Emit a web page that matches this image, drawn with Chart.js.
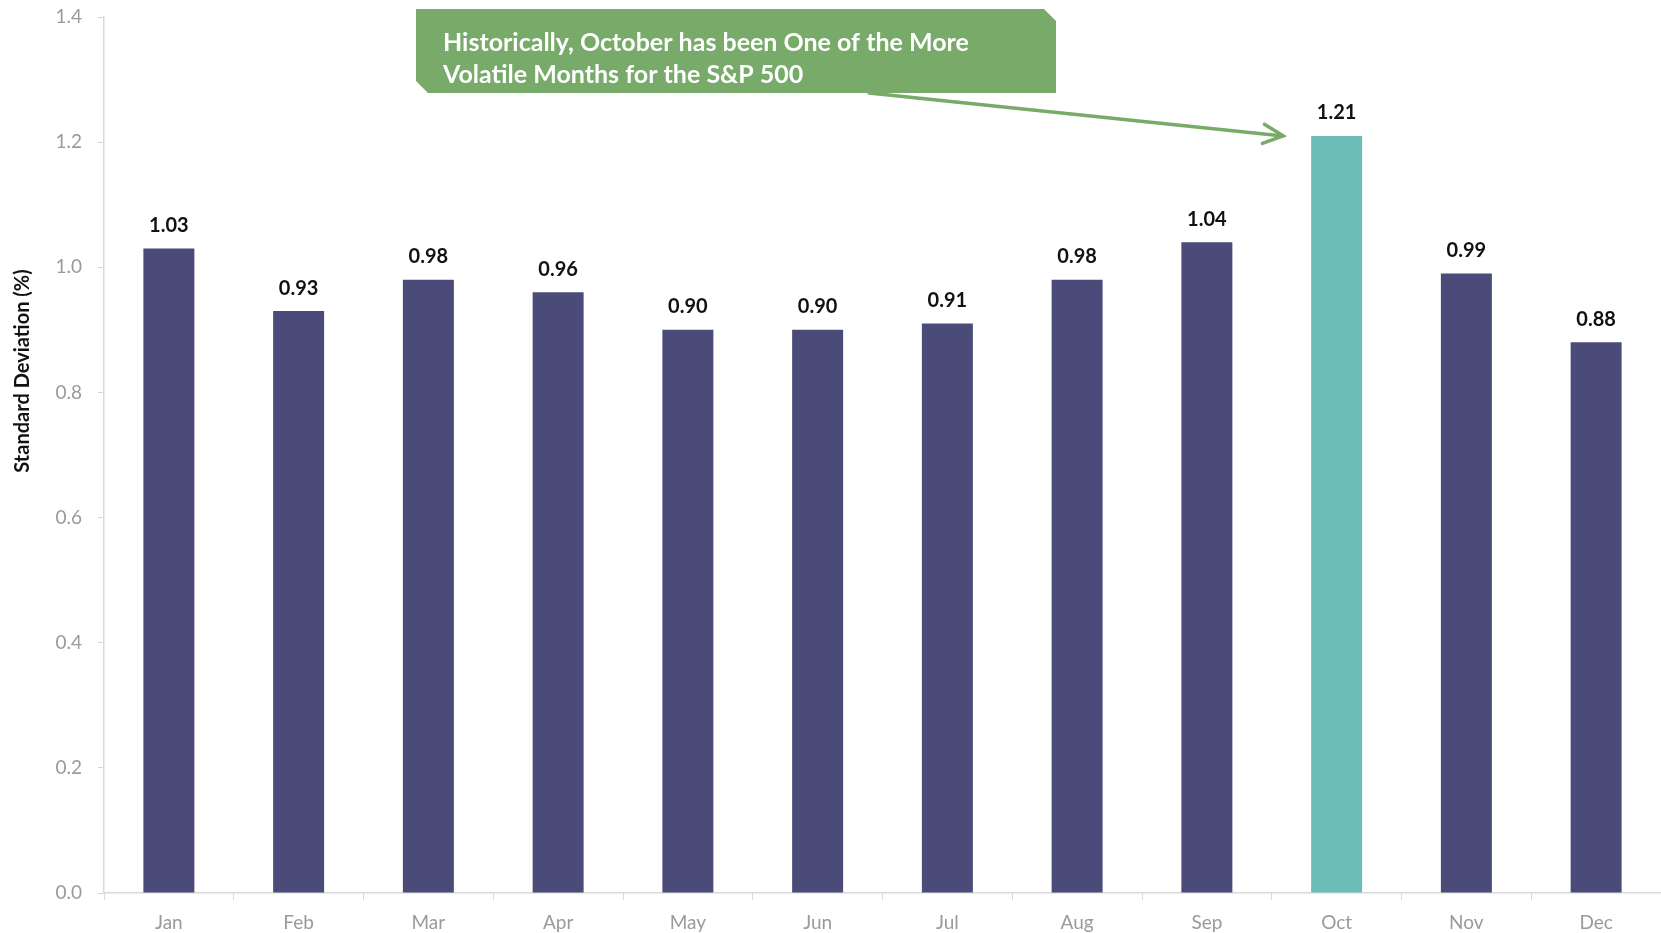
<!DOCTYPE html>
<html>
<head>
<meta charset="utf-8">
<script src="https://cdn.jsdelivr.net/npm/chart.js@4.4.1/dist/chart.umd.min.js"></script>
<style>
  html, body { margin: 0; padding: 0; background: #ffffff; }
  #wrap { width: 1661px; height: 933px; position: relative; }
</style>
</head>
<body>
<div id="wrap"><canvas id="volChart"></canvas></div>
<script>
// chart data
const months = ['Jan', 'Feb', 'Mar', 'Apr', 'May', 'Jun', 'Jul', 'Aug', 'Sep', 'Oct', 'Nov', 'Dec'];
const stdDev = [1.03, 0.93, 0.98, 0.96, 0.90, 0.90, 0.91, 0.98, 1.04, 1.21, 0.99, 0.88];
const highlightMonth = 'Oct';
const yTicks = [0, 0.2, 0.4, 0.6, 0.8, 1.0, 1.2, 1.4];
const calloutLines = ['Historically, October has been One of the More', 'Volatile Months for the S&P 500'];
const yTitle = 'Standard Deviation (%)';

const NAVY = '#4a4b78';
const TEAL = '#6cbcb8';
const GREEN = '#78ab69';
const AXIS = '#d9d9d9';
const FONT = 'Lato, "Open Sans", sans-serif';

// value labels above bars
const valueLabels = {
  id: 'valueLabels',
  afterDatasetsDraw(chart) {
    const ctx = chart.ctx;
    const meta = chart.getDatasetMeta(0);
    ctx.save();
    ctx.font = 'bold 20px ' + FONT;
    ctx.fillStyle = '#111111';
    ctx.textAlign = 'center';
    ctx.textBaseline = 'middle';
    meta.data.forEach((bar, i) => {
      ctx.fillText(stdDev[i].toFixed(2), bar.x, bar.y - 23);
    });
    ctx.restore();
  }
};

// y axis title, sits a bit above the middle like the original
const sideTitle = {
  id: 'sideTitle',
  afterDraw(chart) {
    const ctx = chart.ctx;
    ctx.save();
    ctx.font = 'bold 20px ' + FONT;
    ctx.fillStyle = '#111111';
    ctx.textAlign = 'center';
    ctx.textBaseline = 'middle';
    ctx.translate(23, 371);
    ctx.rotate(-Math.PI / 2);
    ctx.fillText(yTitle, 0, 0);
    ctx.restore();
  }
};

// green callout box + arrow pointing at the highlighted bar
const callout = {
  id: 'callout',
  afterDraw(chart) {
    const ctx = chart.ctx;
    const left = 416, top = 9, right = 1056, bottom = 93, cut = 12;
    ctx.save();
    ctx.fillStyle = GREEN;
    ctx.beginPath();
    ctx.moveTo(left, top);
    ctx.lineTo(right - cut, top);
    ctx.lineTo(right, top + cut);
    ctx.lineTo(right, bottom);
    ctx.lineTo(left + cut, bottom);
    ctx.lineTo(left, bottom - cut);
    ctx.closePath();
    ctx.fill();

    // fit text width to the original (~525px)
    let size = 23;
    ctx.font = 'bold ' + size + 'px ' + FONT;
    const w = ctx.measureText(calloutLines[0]).width;
    size = Math.round(size * 525 / w * 10) / 10;
    ctx.font = 'bold ' + size + 'px ' + FONT;
    ctx.fillStyle = '#ffffff';
    ctx.textAlign = 'left';
    ctx.textBaseline = 'middle';
    ctx.fillText(calloutLines[0], 443, 43);
    ctx.fillText(calloutLines[1], 443, 75);

    // arrow
    const idx = months.indexOf(highlightMonth);
    const bar = chart.getDatasetMeta(0).data[idx];
    const tipX = bar.x - bar.width / 2 - 28;
    const tipY = bar.y;
    const fromX = 869, fromY = bottom;
    ctx.strokeStyle = GREEN;
    ctx.lineWidth = 3.5;
    ctx.lineCap = 'round';
    ctx.beginPath();
    ctx.moveTo(fromX, fromY);
    ctx.lineTo(tipX, tipY);
    ctx.stroke();
    const ang = Math.atan2(tipY - fromY, tipX - fromX);
    const head = 22;
    ctx.beginPath();
    ctx.moveTo(tipX - head * Math.cos(ang - 0.45), tipY - head * Math.sin(ang - 0.45));
    ctx.lineTo(tipX, tipY);
    ctx.lineTo(tipX - head * Math.cos(ang + 0.45), tipY - head * Math.sin(ang + 0.45));
    ctx.stroke();
    ctx.restore();
  }
};

document.addEventListener('DOMContentLoaded', function() {
  const ctx = document.getElementById('volChart');
  new Chart(ctx, {
    type: 'bar',
    data: {
      labels: months,
      datasets: [{
        data: stdDev,
        backgroundColor: months.map(m => m === highlightMonth ? TEAL : NAVY),
        borderWidth: 0,
        categoryPercentage: 1,
        barPercentage: 0.393
      }]
    },
    options: {
      responsive: true,
      maintainAspectRatio: false,
      animation: false,
      layout: {
        padding: { top: 17, right: 0, left: 0, bottom: 0 }
      },
      plugins: {
        legend: { display: false },
        tooltip: { enabled: false }
      },
      scales: {
        x: {
          grid: {
            offset: true,
            drawOnChartArea: false,
            drawTicks: true,
            tickLength: 7,
            color: AXIS
          },
          border: { color: AXIS, width: 1.5 },
          ticks: {
            color: '#9a9a9a',
            padding: 11,
            font: { family: FONT, size: 19 }
          },
          afterFit: function(scale) {
            scale.height = 40;
            scale.paddingLeft = 0;
            scale.paddingRight = 0;
          }
        },
        y: {
          min: 0,
          max: 1.4,
          afterBuildTicks: function(scale) {
            scale.ticks = yTicks.map(v => ({ value: v }));
          },
          grid: {
            drawOnChartArea: false,
            drawTicks: true,
            tickLength: 6,
            color: AXIS
          },
          border: { color: AXIS, width: 1.5 },
          ticks: {
            color: '#9a9a9a',
            padding: 16,
            font: { family: FONT, size: 19 },
            callback: function(value) { return Number(value).toFixed(1); }
          },
          afterFit: function(scale) {
            scale.width = 104;
            // keep tick padding from pushing the plot area down
            scale.paddingTop = 0;
            scale.paddingBottom = 0;
          }
        }
      }
    },
    plugins: [valueLabels, sideTitle, callout]
  });
});
</script>
</body>
</html>
